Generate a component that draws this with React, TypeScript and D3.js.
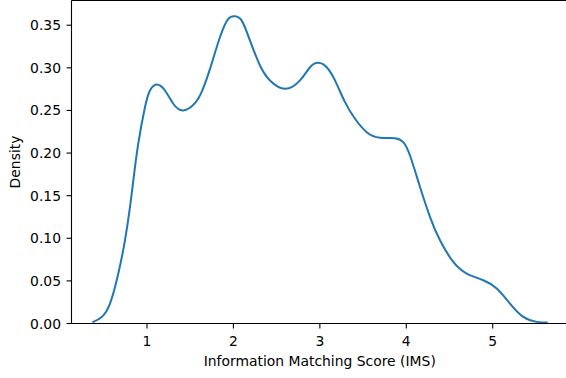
import React from "react";
import * as d3 from "d3";

const xValues = [
  0.379, 0.476, 0.572, 0.668, 0.745, 0.803, 0.842, 0.899, 0.977, 1.035, 1.112, 1.208, 1.304, 1.42,
  1.555, 1.64, 1.729, 1.844, 1.941, 2.018, 2.096, 2.192, 2.307, 2.423, 2.597, 2.77, 2.886, 2.982,
  3.079, 3.175, 3.291, 3.407, 3.542, 3.696, 3.87, 3.965, 4.043, 4.159, 4.275, 4.39, 4.544, 4.699,
  4.891, 5.046, 5.2, 5.354, 5.509, 5.625,
];
const densityValues = [
  0.0019, 0.0077, 0.0234, 0.0586, 0.0976, 0.1366, 0.168, 0.211, 0.254, 0.2735, 0.2804, 0.2734, 0.2578,
  0.25, 0.2585, 0.2735, 0.2988, 0.3359, 0.3574, 0.3605, 0.3554, 0.332, 0.3027, 0.2852, 0.2754,
  0.2852, 0.3007, 0.3059, 0.3007, 0.2852, 0.2597, 0.2402, 0.2245, 0.218, 0.2175, 0.2128, 0.1971,
  0.1601, 0.1249, 0.0976, 0.0722, 0.0586, 0.0507, 0.041, 0.0234, 0.0077, 0.0019, 0.0012,
];
const xTicks = [1, 2, 3, 4, 5];
const yTicks = [0, 0.05, 0.1, 0.15, 0.2, 0.25, 0.3, 0.35];
const xLabel = "Information Matching Score (IMS)";
const yLabel = "Density";

const W = 566;
const H = 378;
const left = 71.5;
const right = 568;
const top = 0.5;
const bottom = 323.5;
const font = "DejaVu Sans, sans-serif";
const fs = 13.9;
const tickLen = 4.9;

export default function App() {
  const x = d3.scaleLinear().domain([0.1265, 5.871]).range([left, right]);
  const y = d3.scaleLinear().domain([0, 0.379]).range([bottom, top]);
  const pts: [number, number][] = xValues.map((v, i) => [v, densityValues[i]]);
  const line = d3
    .line<[number, number]>()
    .x((d) => x(d[0]))
    .y((d) => y(d[1]))
    .curve(d3.curveNatural);
  return (
    <svg
      width={W}
      height={H}
      style={{ position: "fixed", top: 0, left: 0, background: "#fff" }}
      fontFamily={font}
    >
      <rect x={0} y={0} width={W} height={H} fill="#fff" />
      <path d={line(pts) || ""} fill="none" stroke="#1f77b4" strokeWidth={2} strokeLinejoin="round" strokeLinecap="square" />
      <line x1={left} x2={left} y1={top} y2={bottom} stroke="#000" strokeWidth={1.1} />
      <line x1={left} x2={right} y1={bottom} y2={bottom} stroke="#000" strokeWidth={1.1} />
      <line x1={left} x2={right} y1={top} y2={top} stroke="#000" strokeWidth={1.1} />
      <line x1={right} x2={right} y1={top} y2={bottom} stroke="#000" strokeWidth={1.1} />
      {yTicks.map((t) => (
        <g key={t}>
          <line x1={left - tickLen} x2={left} y1={y(t)} y2={y(t)} stroke="#000" strokeWidth={1.1} />
          <text x={left - 10.5} y={y(t)} dy="0.36em" textAnchor="end" fontSize={fs} fill="#000">
            {t.toFixed(2)}
          </text>
        </g>
      ))}
      {xTicks.map((t) => (
        <g key={t}>
          <line x1={x(t)} x2={x(t)} y1={bottom} y2={bottom + tickLen} stroke="#000" strokeWidth={1.1} />
          <text x={x(t)} y={345.5} textAnchor="middle" fontSize={fs} fill="#000">
            {t}
          </text>
        </g>
      ))}
      <text x={(left + right) / 2} y={365.5} textAnchor="middle" fontSize={fs} fill="#000">
        {xLabel}
      </text>
      <text
        transform={`translate(19.5, ${(top + bottom) / 2}) rotate(-90)`}
        textAnchor="middle"
        fontSize={fs}
        fill="#000"
      >
        {yLabel}
      </text>
    </svg>
  );
}
